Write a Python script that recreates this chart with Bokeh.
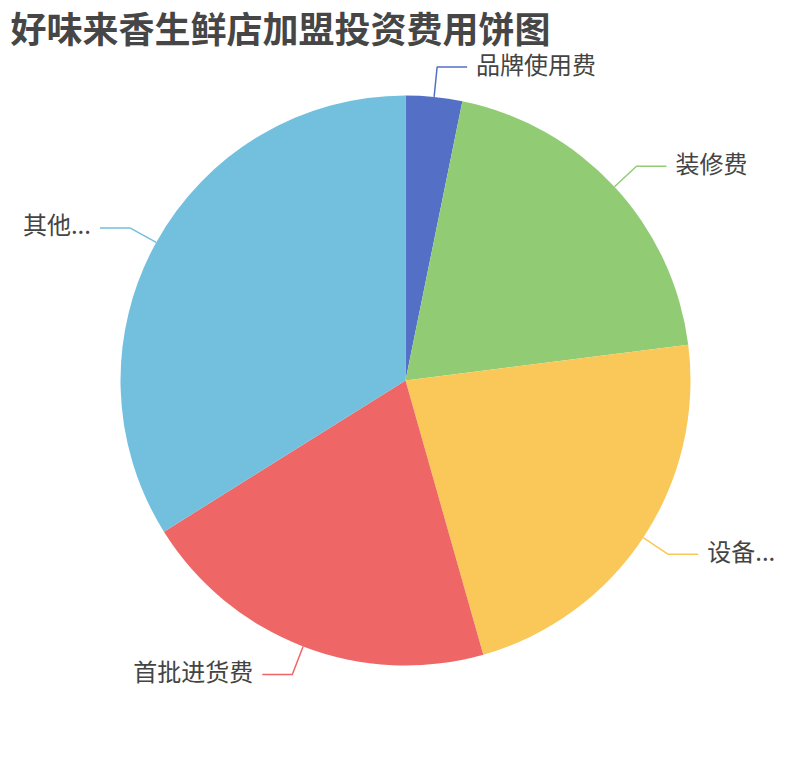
import numpy as np

from bokeh.core.properties import value
from bokeh.embed import file_html
from bokeh.models import Range1d
from bokeh.plotting import figure
from bokeh.resources import INLINE

title = "好味来香生鲜店加盟投资费用饼图"
names = ["品牌使用费", "装修费", "设备...", "首批进货费", "其他..."]
amounts = [3.2, 19.8, 22.6, 20.5, 33.9]
colors = ["#5470c6", "#91cc75", "#fac858", "#ee6666", "#73c0de"]

W, H = 794, 744
cx, cy, R = 405, 380, 285     # page pixels
len1, len2 = 30, 30
font = value("Noto Sans CJK SC")

def sy(y):
    # page y (down) -> data y (up)
    return H - y

p = figure(width=W, height=H, output_backend="svg", toolbar_location=None,
           x_range=Range1d(0, W), y_range=Range1d(0, H),
           x_axis_type=None, y_axis_type=None, min_border=0,
           outline_line_color=None, background_fill_color="white",
           border_fill_color="white")
p.xgrid.grid_line_color = None
p.ygrid.grid_line_color = None

vals = np.array(amounts, dtype=float)
frac = vals / vals.sum()
cum = np.concatenate([[0], np.cumsum(frac)])
start = np.pi / 2 - cum[:-1] * 2 * np.pi
end = np.pi / 2 - cum[1:] * 2 * np.pi

p.wedge(x=cx, y=sy(cy), radius=R, start_angle=start, end_angle=end,
        direction="clock", fill_color=colors, line_color=None)

# label lines and labels
mid = (start + end) / 2
for i, name in enumerate(names):
    ca, sa = np.cos(mid[i]), np.sin(mid[i])
    x0, y0 = cx + R * ca, sy(cy) + R * sa
    x1, y1 = cx + (R + len1) * ca, sy(cy) + (R + len1) * sa
    side = 1 if ca >= 0 else -1
    x2 = x1 + side * len2
    p.line([x0, x1, x2], [y0, y1, y1], line_color=colors[i], line_width=1.5)
    p.text([x2 + side * 9], [y1 + 4], text=[name], text_font=font,
           text_font_size="24px", text_color="#444444",
           text_align="left" if side > 0 else "right", text_baseline="middle")

p.text([10], [sy(26)], text=[title], text_font=font, text_font_size="36px",
       text_font_style="bold", text_color="#464646",
       text_align="left", text_baseline="middle")

open("out.html", "w").write(file_html(p, INLINE))
